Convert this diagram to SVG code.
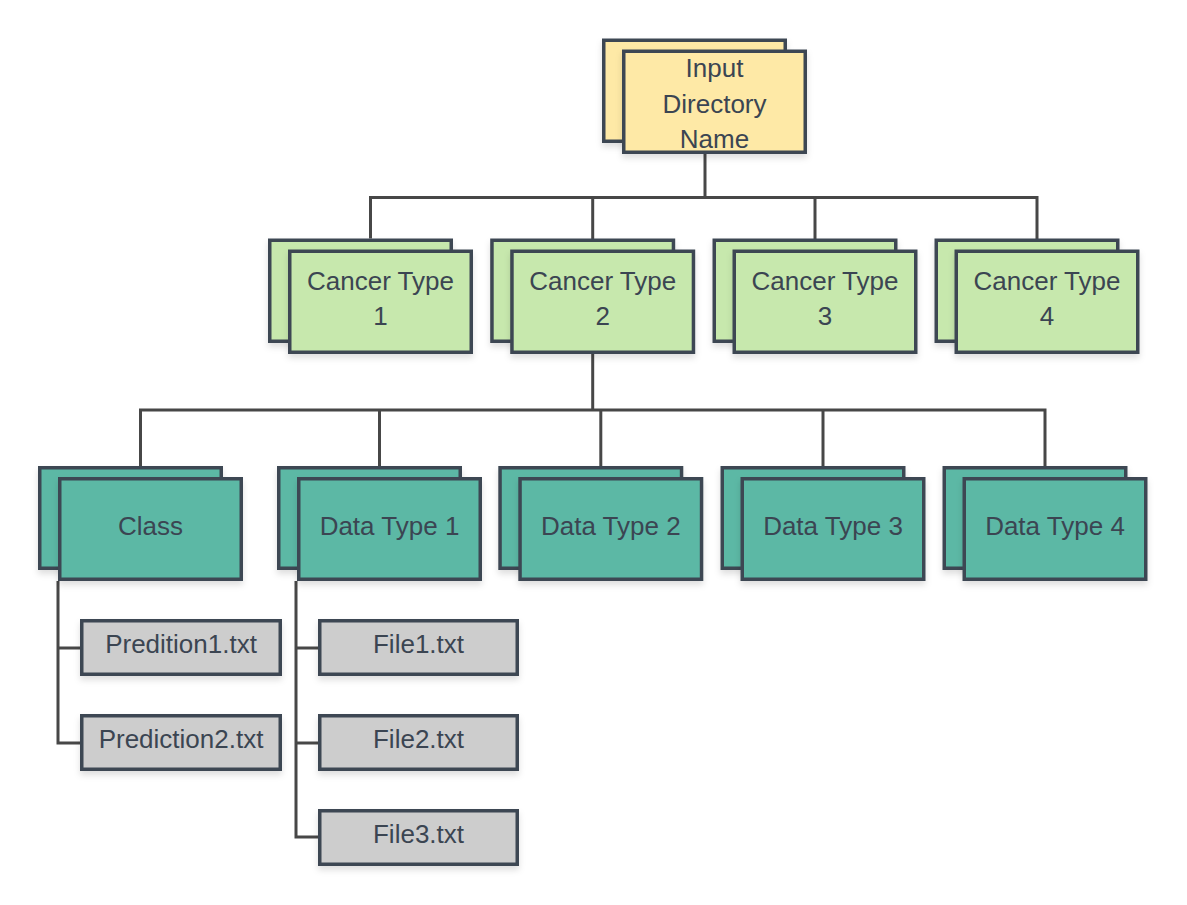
<svg xmlns="http://www.w3.org/2000/svg" width="1187" height="905" viewBox="0 0 1187 905">
  <defs>
    <filter id="sh" x="-10%" y="-10%" width="125%" height="135%">
      <feDropShadow dx="0" dy="4" stdDeviation="3" flood-color="#000" flood-opacity="0.13"/>
    </filter>
  </defs>
  <style>
    .box { stroke: #3d4753; stroke-width: 3.5; filter: url(#sh); }
    .yel { fill: #fee9a6; }
    .lg { fill: #c7e8ad; }
    .teal { fill: #5bb8a5; }
    .gray { fill: #cdcdcd; }
    .t { font-family: "Liberation Sans", Arial, sans-serif; font-size: 26px; fill: #3b4552; text-anchor: middle; }
    .conn { fill: none; stroke: #474747; stroke-width: 3; }
  </style>
  <rect width="1187" height="905" fill="#ffffff"/>

  <g id="connectors" class="conn">
    <path d="M705,154 V197.5"/>
    <path d="M370.5,238.5 V197.5 H1037 V239"/>
    <path d="M592.7,197.5 V239"/>
    <path d="M815,197.5 V239"/>
    <path d="M592.7,354 V410"/>
    <path d="M140.5,466 V410 H1045 V466"/>
    <path d="M379.5,410 V466"/>
    <path d="M600.8,410 V466"/>
    <path d="M823,410 V466"/>
    <path d="M58,581 V743 H80"/>
    <path d="M58,648 H80"/>
    <path d="M296,581 V837 H318"/>
    <path d="M296,648 H318"/>
    <path d="M296,743 H318"/>
  </g>

  <g id="input-directory">
    <rect class="box yel" x="603.75" y="40.25" width="181.5" height="101"/>
    <rect class="box yel" x="623.75" y="51.25" width="181.5" height="101"/>
    <text class="t" x="714.5" y="77">Input</text>
    <text class="t" x="714.5" y="112.5">Directory</text>
    <text class="t" x="714.5" y="148">Name</text>
  </g>

  <g id="cancer-type-1">
    <rect class="box lg" x="269.75" y="240.25" width="181.5" height="101"/>
    <rect class="box lg" x="289.75" y="251.25" width="181.5" height="101"/>
    <text class="t" x="380.5" y="290">Cancer Type</text>
    <text class="t" x="380.5" y="325">1</text>
  </g>
  <g id="cancer-type-2">
    <rect class="box lg" x="491.95" y="240.25" width="181.5" height="101"/>
    <rect class="box lg" x="511.95" y="251.25" width="181.5" height="101"/>
    <text class="t" x="602.7" y="290">Cancer Type</text>
    <text class="t" x="602.7" y="325">2</text>
  </g>
  <g id="cancer-type-3">
    <rect class="box lg" x="714.25" y="240.25" width="181.5" height="101"/>
    <rect class="box lg" x="734.25" y="251.25" width="181.5" height="101"/>
    <text class="t" x="825" y="290">Cancer Type</text>
    <text class="t" x="825" y="325">3</text>
  </g>
  <g id="cancer-type-4">
    <rect class="box lg" x="936.25" y="240.25" width="181.5" height="101"/>
    <rect class="box lg" x="956.25" y="251.25" width="181.5" height="101"/>
    <text class="t" x="1047" y="290">Cancer Type</text>
    <text class="t" x="1047" y="325">4</text>
  </g>

  <g id="class">
    <rect class="box teal" x="39.75" y="467.75" width="181.5" height="100.5"/>
    <rect class="box teal" x="59.75" y="478.75" width="181.5" height="100.5"/>
    <text class="t" x="150.5" y="535">Class</text>
  </g>
  <g id="data-type-1">
    <rect class="box teal" x="278.75" y="467.75" width="181.5" height="100.5"/>
    <rect class="box teal" x="298.75" y="478.75" width="181.5" height="100.5"/>
    <text class="t" x="389.5" y="535">Data Type 1</text>
  </g>
  <g id="data-type-2">
    <rect class="box teal" x="500.05" y="467.75" width="181.5" height="100.5"/>
    <rect class="box teal" x="520.05" y="478.75" width="181.5" height="100.5"/>
    <text class="t" x="610.8" y="535">Data Type 2</text>
  </g>
  <g id="data-type-3">
    <rect class="box teal" x="722.25" y="467.75" width="181.5" height="100.5"/>
    <rect class="box teal" x="742.25" y="478.75" width="181.5" height="100.5"/>
    <text class="t" x="833" y="535">Data Type 3</text>
  </g>
  <g id="data-type-4">
    <rect class="box teal" x="944.25" y="467.75" width="181.5" height="100.5"/>
    <rect class="box teal" x="964.25" y="478.75" width="181.5" height="100.5"/>
    <text class="t" x="1055" y="535">Data Type 4</text>
  </g>

  <g id="prediction1">
    <rect class="box gray" x="81.75" y="620.75" width="198.5" height="53.5"/>
    <text class="t" x="181" y="653">Predition1.txt</text>
  </g>
  <g id="prediction2">
    <rect class="box gray" x="81.75" y="715.75" width="198.5" height="53.5"/>
    <text class="t" x="181" y="748">Prediction2.txt</text>
  </g>
  <g id="file1">
    <rect class="box gray" x="319.75" y="620.75" width="197.5" height="53.5"/>
    <text class="t" x="418.5" y="653">File1.txt</text>
  </g>
  <g id="file2">
    <rect class="box gray" x="319.75" y="715.75" width="197.5" height="53.5"/>
    <text class="t" x="418.5" y="748">File2.txt</text>
  </g>
  <g id="file3">
    <rect class="box gray" x="319.75" y="810.75" width="197.5" height="53.5"/>
    <text class="t" x="418.5" y="843">File3.txt</text>
  </g>
</svg>
